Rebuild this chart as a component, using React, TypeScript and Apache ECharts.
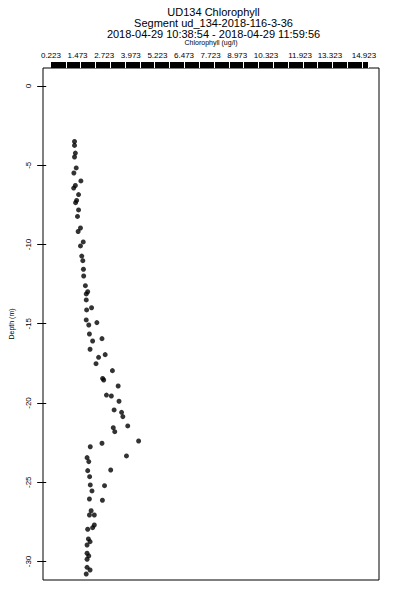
import React, { useEffect, useRef } from "react";
import * as echarts from "echarts";

const titleLines = [
  "UD134 Chlorophyll",
  "Segment ud_134-2018-116-3-36",
  "2018-04-29 10:38:54 - 2018-04-29 11:59:56",
];
const xAxisName = "Chlorophyll (ug/l)";
const yAxisName = "Depth (m)";
const chlTickLabels = [
  "0.223", "1.473", "2.723", "3.973", "5.223", "6.473",
  "7.723", "8.973", "10.323", "11.923", "13.323", "14.923",
];
const depthTicks = [0, -5, -10, -15, -20, -25, -30];

const chlorophyll = [
  1.33, 1.33, 1.37, 1.33, 1.41, 1.30, 1.63, 1.37, 1.29, 1.52,
  1.43, 1.38, 1.52, 1.47, 1.61, 1.50, 1.74, 1.61, 1.67, 1.72,
  1.75, 1.76, 1.84, 1.95, 1.88, 1.88, 2.13, 1.90, 1.88, 2.38,
  2.00, 2.03, 2.62, 2.18, 2.06, 2.77, 2.46, 2.34, 3.11, 2.65,
  2.70, 3.38, 2.83, 3.06, 3.42, 3.19, 3.54, 3.60, 3.83, 3.15,
  3.22, 4.34, 2.62, 2.07, 3.77, 1.92, 2.00, 1.95, 3.03, 2.04,
  2.07, 2.74, 2.15, 2.03, 2.64, 2.11, 2.03, 2.26, 2.26, 2.18,
  1.95, 1.98, 2.06, 1.92, 1.92, 2.00, 1.92, 1.92, 2.06, 1.88,
];
const depth = [
  -3.50, -3.75, -4.23, -4.48, -5.17, -5.49, -5.99, -6.28, -6.44, -6.85,
  -7.22, -7.36, -7.82, -8.23, -8.96, -9.18, -9.84, -10.09, -10.73, -11.02,
  -11.56, -11.99, -12.60, -12.98, -13.12, -13.50, -13.99, -14.13, -14.76, -14.93,
  -15.08, -15.65, -15.94, -16.09, -16.61, -16.95, -17.12, -17.52, -17.96, -18.45,
  -18.55, -18.93, -19.50, -19.56, -19.89, -20.44, -20.59, -20.86, -21.45, -21.56,
  -21.81, -22.40, -22.54, -22.76, -23.34, -23.45, -23.70, -24.27, -24.23, -24.65,
  -25.17, -25.22, -25.55, -26.06, -26.14, -26.80, -27.07, -27.07, -27.70, -27.87,
  -27.97, -28.58, -28.75, -28.96, -29.48, -29.65, -29.86, -30.37, -30.54, -30.79,
];

export default function App() {
  const ref = useRef<HTMLDivElement>(null);
  useEffect(() => {
    document.body.style.margin = "0";
    const chart = echarts.init(ref.current!, null, { renderer: "svg" });
    const font = "'Liberation Sans', Arial, Helvetica, sans-serif";
    const tickVals = chlTickLabels.map(Number);
    chart.setOption({
      animation: false,
      backgroundColor: "#ffffff",
      textStyle: { fontFamily: font, color: "#000" },
      title: {
        text: titleLines.join("\n"),
        left: 208.5,
        textAlign: "center",
        top: 1,
        textStyle: {
          fontSize: 11,
          fontWeight: "normal",
          lineHeight: 11.3,
          color: "#000",
          fontFamily: font,
        },
      },
      grid: [
        {
          left: 38, right: 21, top: 68, bottom: 20,
          show: true, borderColor: "#000", borderWidth: 1,
          backgroundColor: "transparent",
        },
        {
          left: 51, right: 32, top: 62, height: 6,
          show: true, borderWidth: 0, backgroundColor: "#000",
        },
      ],
      xAxis: [
        {
          gridIndex: 0,
          type: "value",
          position: "top",
          min: -0.15,
          max: 15.63,
          axisLine: { show: false },
          axisTick: { show: false },
          splitLine: { show: false },
          axisLabel: {
            customValues: tickVals,
            formatter: (v: number) => {
              const i = tickVals.findIndex((t) => Math.abs(t - v) < 1e-6);
              return i >= 0 ? chlTickLabels[i] : "";
            },
            fontSize: 8,
            margin: 9,
            color: "#000",
            fontFamily: font,
          },
          name: xAxisName,
          nameLocation: "middle",
          nameGap: 20,
          nameTextStyle: { fontSize: 7, color: "#000", fontFamily: font },
        },
        {
          gridIndex: 1,
          type: "value",
          position: "top",
          min: 0,
          max: 21.4,
          interval: 1,
          axisLine: { show: false },
          axisTick: { show: false },
          axisLabel: { show: false },
          splitLine: {
            show: true,
            showMinLine: false,
            lineStyle: { color: "#fff", width: 1 },
          },
        },
      ],
      yAxis: [
        {
          gridIndex: 0,
          type: "value",
          min: -31.17,
          max: 1.136,
          axisLine: { show: false },
          splitLine: { show: false },
          axisTick: {
            show: true,
            customValues: depthTicks,
            length: 9,
            lineStyle: { color: "#000", width: 1 },
          },
          axisLabel: {
            customValues: depthTicks,
            rotate: 90,
            fontSize: 8,
            margin: 11,
            color: "#000",
            fontFamily: font,
          },
          name: yAxisName,
          nameLocation: "middle",
          nameGap: 28,
          nameRotate: 90,
          nameTextStyle: { fontSize: 7, color: "#000", fontFamily: font },
        },
        { gridIndex: 1, type: "value", show: false },
      ],
      series: [
        {
          type: "scatter",
          xAxisIndex: 0,
          yAxisIndex: 0,
          symbol: "circle",
          symbolSize: 5,
          itemStyle: { color: "#000" },
          data: chlorophyll.map((c, i) => [c, depth[i]]),
        },
      ],
    });
    return () => chart.dispose();
  }, []);
  return <div ref={ref} style={{ width: 400, height: 600 }} />;
}
